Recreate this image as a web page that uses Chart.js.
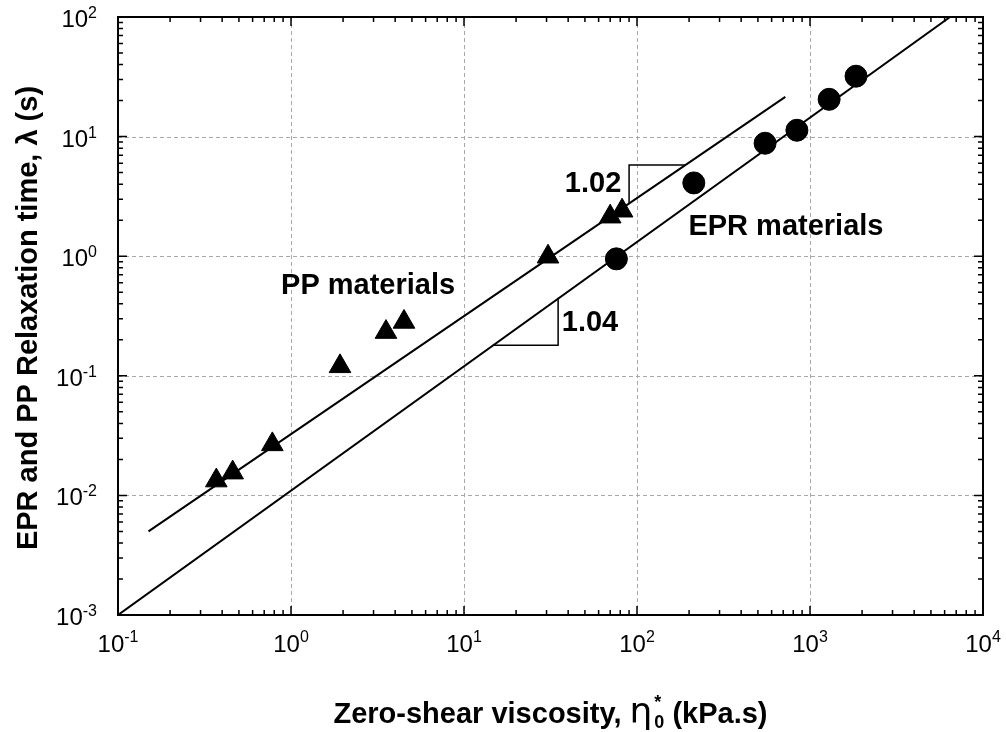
<!DOCTYPE html>
<html>
<head>
<meta charset="utf-8">
<script src="https://cdn.jsdelivr.net/npm/chart.js@4.4.0/dist/chart.umd.min.js"></script>
<style>
  html, body { margin: 0; padding: 0; background: #fff; }
  #wrap { width: 1006px; height: 732px; }
</style>
</head>
<body>
<div id="wrap"><canvas id="chart1"></canvas></div>
<script>
// PP materials (triangles)
const ppViscosity = [0.37, 0.46, 0.78, 1.92, 3.54, 4.5, 30.6, 70, 82];
const ppRelax = [0.0133, 0.0155, 0.0267, 0.120, 0.232, 0.282, 0.99, 2.14, 2.40];

// EPR materials (circles)
const eprViscosity = [76, 213, 550, 840, 1290, 1845];
const eprRelax = [0.95, 4.1, 8.8, 11.3, 20.5, 32];

// fitted lines
const ppFitX = [0.15, 720];
const ppFitY = [0.005, 21.5];
const eprFitX = [0.1, 6450];
const eprFitY = [0.001, 100];

// slope triangles
const slope102X = [90, 90, 190];
const slope102Y = [2.75, 5.8, 5.8];
const slope104X = [14.7, 35, 35];
const slope104Y = [0.18, 0.18, 0.45];

const xTickExps = [-1, 0, 1, 2, 3, 4];
const yTickExps = [-3, -2, -1, 0, 1, 2];

const notes = [
    { text: 'PP materials', x: 2.79, y: 0.565 },
    { text: 'EPR materials', x: 726, y: 1.77 },
    { text: '1.02', x: 55.7, y: 4.05 },
    { text: '1.04', x: 53.5, y: 0.276 },
];

const pts = (xs, ys) => xs.map((v, i) => ({ x: v, y: ys[i] }));

const sans = '"Liberation Sans", Arial, sans-serif';

const frame = {
    id: 'frame',
    beforeDatasetsDraw(chart) {
        const { ctx, chartArea: a, scales: { x, y } } = chart;
        ctx.save();

        // dashed grid at decades
        ctx.strokeStyle = '#a8a8a8';
        ctx.lineWidth = 1;
        ctx.setLineDash([4, 3]);
        ctx.beginPath();
        xTickExps.slice(1, -1).forEach(e => {
            const px = Math.round(x.getPixelForValue(10 ** e)) + 0.5;
            ctx.moveTo(px, a.top);
            ctx.lineTo(px, a.bottom);
        });
        yTickExps.slice(1, -1).forEach(e => {
            const py = Math.round(y.getPixelForValue(10 ** e)) + 0.5;
            ctx.moveTo(a.left, py);
            ctx.lineTo(a.right, py);
        });
        ctx.stroke();
        ctx.setLineDash([]);

        // inward ticks on all four sides
        ctx.strokeStyle = '#000';
        ctx.lineWidth = 1.5;
        ctx.beginPath();
        for (const e of xTickExps.slice(0, -1)) {
            for (let m = 1; m <= 9; m++) {
                const px = x.getPixelForValue(m * 10 ** e);
                const len = m === 1 ? 9 : 5;
                ctx.moveTo(px, a.bottom); ctx.lineTo(px, a.bottom - len);
                ctx.moveTo(px, a.top); ctx.lineTo(px, a.top + len);
            }
        }
        for (const e of yTickExps.slice(0, -1)) {
            for (let m = 1; m <= 9; m++) {
                const py = y.getPixelForValue(m * 10 ** e);
                const len = m === 1 ? 9 : 5;
                ctx.moveTo(a.left, py); ctx.lineTo(a.left + len, py);
                ctx.moveTo(a.right, py); ctx.lineTo(a.right - len, py);
            }
        }
        ctx.stroke();

        ctx.lineWidth = 2;
        ctx.strokeRect(a.left, a.top, a.width, a.height);
        ctx.restore();
    },
    afterDraw(chart) {
        const { ctx, chartArea: a, scales: { x, y } } = chart;
        ctx.save();
        ctx.fillStyle = '#000';
        ctx.textBaseline = 'alphabetic';
        ctx.textAlign = 'left';

        const big = '24px ' + sans;
        const sup = '16px ' + sans;

        // x tick labels
        xTickExps.forEach(e => {
            const px = x.getPixelForValue(10 ** e);
            const ex = e < 0 ? '-' + (-e) : String(e);
            ctx.font = big;
            const w1 = ctx.measureText('10').width;
            ctx.font = sup;
            const w2 = ctx.measureText(ex).width;
            const x0 = px - (w1 + w2) / 2;
            ctx.font = big;
            ctx.fillText('10', x0, a.bottom + 37);
            ctx.font = sup;
            ctx.fillText(ex, x0 + w1, a.bottom + 27);
        });

        // y tick labels
        yTickExps.forEach(e => {
            const py = y.getPixelForValue(10 ** e);
            const ex = e < 0 ? '-' + (-e) : String(e);
            ctx.font = sup;
            const w2 = ctx.measureText(ex).width;
            ctx.font = big;
            const w1 = ctx.measureText('10').width;
            const x1 = a.left - 21;
            ctx.fillText('10', x1 - w2 - w1, py + 10);
            ctx.font = sup;
            ctx.fillText(ex, x1 - w2, py + 1);
        });

        // annotations
        ctx.font = 'bold 29px ' + sans;
        ctx.textAlign = 'center';
        ctx.textBaseline = 'middle';
        notes.forEach(n => {
            ctx.fillText(n.text, x.getPixelForValue(n.x), y.getPixelForValue(n.y));
        });

        // x axis title
        ctx.textAlign = 'left';
        ctx.textBaseline = 'alphabetic';
        const tfont = 'bold 29px ' + sans;
        const segA = 'Zero-shear viscosity, ';
        const segB = ' (kPa.s)';
        const etaFont = '36px "DejaVu Sans"';
        ctx.font = tfont;
        const wA = ctx.measureText(segA).width;
        const wB = ctx.measureText(segB).width;
        ctx.font = etaFont;
        const wEta = ctx.measureText('η').width;
        ctx.font = 'bold 18px ' + sans;
        const wSub = ctx.measureText('0').width;
        const total = wA + wEta + 2 + wSub + wB;
        let cx = (a.left + a.right) / 2 - total / 2;
        const base = 723;
        ctx.font = tfont;
        ctx.fillText(segA, cx, base); cx += wA;
        ctx.font = etaFont;
        ctx.fillText('η', cx, base); cx += wEta + 2;
        ctx.font = 'bold 18px ' + sans;
        ctx.fillText('*', cx, base - 15);
        ctx.fillText('0', cx, base + 5); cx += wSub;
        ctx.font = tfont;
        ctx.fillText(segB, cx, base);

        // y axis title
        ctx.translate(37, (a.top + a.bottom) / 2 + 2);
        ctx.rotate(-Math.PI / 2);
        ctx.textAlign = 'center';
        ctx.font = tfont;
        ctx.fillText('EPR and PP Relaxation time, λ (s)', 0, 0);
        ctx.restore();
    }
};

const ctx1 = document.getElementById('chart1');

new Chart(ctx1, {
    type: 'scatter',
    data: {
        datasets: [
            {
                label: 'PP materials',
                data: pts(ppViscosity, ppRelax),
                pointStyle: 'triangle',
                pointRadius: 12.5,
                backgroundColor: '#000',
                borderColor: '#000',
                borderWidth: 1,
            },
            {
                label: 'EPR materials',
                data: pts(eprViscosity, eprRelax),
                pointStyle: 'circle',
                pointRadius: 11,
                backgroundColor: '#000',
                borderColor: '#000',
                borderWidth: 1,
            },
            {
                label: 'PP fit',
                data: pts(ppFitX, ppFitY),
                showLine: true,
                pointRadius: 0,
                borderColor: '#000',
                borderWidth: 2,
            },
            {
                label: 'EPR fit',
                data: pts(eprFitX, eprFitY),
                showLine: true,
                pointRadius: 0,
                borderColor: '#000',
                borderWidth: 2,
            },
            {
                label: 'slope 1.02',
                data: pts(slope102X, slope102Y),
                showLine: true,
                pointRadius: 0,
                borderColor: '#000',
                borderWidth: 1.5,
            },
            {
                label: 'slope 1.04',
                data: pts(slope104X, slope104Y),
                showLine: true,
                pointRadius: 0,
                borderColor: '#000',
                borderWidth: 1.5,
            },
        ]
    },
    plugins: [frame],
    options: {
        responsive: true,
        maintainAspectRatio: false,
        animation: false,
        layout: {
            padding: { left: 118, right: 23, top: 17, bottom: 117 }
        },
        plugins: {
            legend: { display: false },
            tooltip: { enabled: false },
        },
        scales: {
            x: {
                type: 'logarithmic',
                display: false,
                min: 0.1,
                max: 10000,
            },
            y: {
                type: 'logarithmic',
                display: false,
                min: 0.001,
                max: 100,
            }
        }
    }
});
</script>
</body>
</html>
